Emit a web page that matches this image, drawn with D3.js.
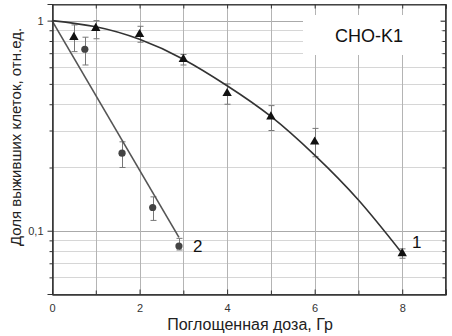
<!DOCTYPE html>
<html>
<head>
<meta charset="utf-8">
<script src="https://cdn.jsdelivr.net/npm/d3@7"></script>
<style>
  body { margin: 0; background: #fff; }
  svg { display: block; font-family: "Liberation Sans", Arial, sans-serif; }
</style>
</head>
<body>
<div id="chart"></div>
<script>
  // series 1 (triangles) - measured points with error bars
  const dose1 = [0.5, 1, 2, 3, 4, 5, 6, 8];
  const surv1 = [0.834, 0.92, 0.861, 0.655, 0.451, 0.349, 0.265, 0.078];
  const lo1 = [0.712, 0.82, 0.789, 0.615, 0.40, 0.30, 0.225, 0.074];
  const hi1 = [0.954, 1.0, 0.94, 0.69, 0.50, 0.394, 0.307, 0.082];

  // series 2 (circles)
  const dose2 = [0.75, 1.6, 2.3, 2.9];
  const surv2 = [0.731, 0.234, 0.129, 0.0846];
  const lo2 = [0.615, 0.20, 0.112, 0.081];
  const hi2 = [0.834, 0.265, 0.145, 0.092];

  // fitted curves
  const fitDose1 = [0, 1, 2, 3, 4, 5, 6, 7, 8];
  const fitSurv1 = [1, 0.935, 0.815, 0.655, 0.49, 0.350, 0.229, 0.140, 0.078];
  const fitDose2 = [0, 2.9];
  const fitSurv2 = [1, 0.093];

  const xTicks = [0, 2, 4, 6, 8];
  const xMinor = [1, 3, 5, 7, 9];
  const yMajor = [0.1, 1];
  const yMinor = [0.06, 0.07, 0.08, 0.09, 0.2, 0.3, 0.4, 0.5, 0.6, 0.7, 0.8, 0.9];

  const width = 452;
  const height = 336;
  const mLeft = 52, mRight = 446, mTop = 4, mBottom = 294;

  const svg = d3
    .select("#chart")
    .append("svg")
    .attr("width", width)
    .attr("height", height);

  const x = d3.scaleLinear().domain([0, 9]).range([mLeft, mRight]);
  const y = d3.scaleLog().domain([0.05, 1.2]).range([mBottom, mTop]);

  // grid
  const grid = svg.append("g");
  grid
    .selectAll("line.h")
    .data(yMinor)
    .join("line")
    .attr("x1", mLeft)
    .attr("x2", mRight)
    .attr("y1", (d) => Math.round(y(d)) + 0.5)
    .attr("y2", (d) => Math.round(y(d)) + 0.5)
    .attr("stroke", "#d6d6d6");
  grid
    .selectAll("line.hm")
    .data(yMajor)
    .join("line")
    .attr("x1", mLeft)
    .attr("x2", mRight)
    .attr("y1", (d) => Math.round(y(d)) + 0.5)
    .attr("y2", (d) => Math.round(y(d)) + 0.5)
    .attr("stroke", "#aaa");
  grid
    .selectAll("line.v")
    .data(d3.range(1, 9))
    .join("line")
    .attr("x1", (d) => Math.round(x(d)) + 0.5)
    .attr("x2", (d) => Math.round(x(d)) + 0.5)
    .attr("y1", mTop)
    .attr("y2", mBottom)
    .attr("stroke", "#b4b4b4");

  // white box behind the cell line label
  svg
    .append("rect")
    .attr("x", 303)
    .attr("y", 15)
    .attr("width", 138)
    .attr("height", 40)
    .attr("fill", "#fff");

  svg
    .append("text")
    .attr("x", 369)
    .attr("y", 42)
    .attr("text-anchor", "middle")
    .attr("font-size", 18)
    .attr("fill", "#111")
    .text("CHO-K1");

  // error bars
  const errs = [
    ...dose1.map((d, i) => ({ x: d, lo: lo1[i], hi: hi1[i] })),
    ...dose2.map((d, i) => ({ x: d, lo: lo2[i], hi: hi2[i] })),
  ];
  const eb = svg.append("g").attr("stroke", "#777").attr("stroke-width", 1);
  errs.forEach((e) => {
    const cx = Math.round(x(e.x)) + 0.5;
    eb.append("line").attr("x1", cx).attr("x2", cx).attr("y1", y(e.lo)).attr("y2", y(e.hi));
    eb.append("line").attr("x1", cx - 3).attr("x2", cx + 3).attr("y1", y(e.lo)).attr("y2", y(e.lo));
    eb.append("line").attr("x1", cx - 3).attr("x2", cx + 3).attr("y1", y(e.hi)).attr("y2", y(e.hi));
  });

  // fitted lines
  const line = d3
    .line()
    .x((d) => x(d[0]))
    .y((d) => y(d[1]))
    .curve(d3.curveNatural);

  svg
    .append("path")
    .attr("d", line(fitDose1.map((d, i) => [d, fitSurv1[i]])))
    .attr("fill", "none")
    .attr("stroke", "#333")
    .attr("stroke-width", 1.6);

  svg
    .append("path")
    .attr("d", line(fitDose2.map((d, i) => [d, fitSurv2[i]])))
    .attr("fill", "none")
    .attr("stroke", "#555")
    .attr("stroke-width", 1.6);

  // markers
  const tri = d3.symbol().type(d3.symbolTriangle).size(38);
  svg
    .selectAll("path.tri")
    .data(dose1.map((d, i) => [d, surv1[i]]))
    .join("path")
    .attr("class", "tri")
    .attr("d", tri)
    .attr("transform", (d) => `translate(${x(d[0])},${y(d[1])})`)
    .attr("fill", "#111");

  svg
    .selectAll("circle.pt")
    .data(dose2.map((d, i) => [d, surv2[i]]))
    .join("circle")
    .attr("class", "pt")
    .attr("cx", (d) => x(d[0]))
    .attr("cy", (d) => y(d[1]))
    .attr("r", 3.6)
    .attr("fill", "#444");

  // curve labels
  svg.append("text").attr("x", 412).attr("y", 248).attr("font-size", 17).attr("fill", "#111").text("1");
  svg.append("text").attr("x", 193).attr("y", 252).attr("font-size", 17).attr("fill", "#111").text("2");

  // frame
  svg
    .append("rect")
    .attr("x", mLeft + 0.5)
    .attr("y", mTop + 0.5)
    .attr("width", mRight - mLeft - 1)
    .attr("height", mBottom - mTop)
    .attr("fill", "none")
    .attr("stroke", "#555");

  // axes
  svg
    .append("g")
    .attr("transform", `translate(0,${mBottom + 0.5})`)
    .call(d3.axisBottom(x).tickValues(xTicks).tickSize(-5).tickPadding(10).tickFormat(d3.format("d")));
  svg
    .append("g")
    .attr("transform", `translate(0,${mBottom + 0.5})`)
    .call(d3.axisBottom(x).tickValues(xMinor).tickSize(-4).tickFormat(""));
  svg
    .append("g")
    .attr("transform", `translate(0,${mTop + 0.5})`)
    .call(d3.axisTop(x).tickValues(d3.range(0, 10)).tickSize(-4).tickFormat(""));

  svg
    .append("g")
    .attr("transform", `translate(${mLeft + 0.5},0)`)
    .call(
      d3
        .axisLeft(y)
        .tickValues(yMajor)
        .tickSize(5)
        .tickPadding(4)
        .tickFormat((d) => (d === 1 ? "1" : "0,1"))
    );
  svg
    .append("g")
    .attr("transform", `translate(${mLeft + 0.5},0)`)
    .call(d3.axisLeft(y).tickValues(yMinor).tickSize(3).tickFormat(""));
  svg
    .append("g")
    .attr("transform", `translate(${mRight - 0.5},0)`)
    .call(d3.axisRight(y).tickValues(yMajor).tickSize(-5).tickFormat(""));
  svg
    .append("g")
    .attr("transform", `translate(${mRight - 0.5},0)`)
    .call(d3.axisRight(y).tickValues(yMinor).tickSize(-3).tickFormat(""));

  svg.selectAll(".domain").attr("stroke", "#333");
  svg.selectAll(".tick line").attr("stroke", "#333");
  svg
    .selectAll(".tick text")
    .attr("font-size", 11)
    .attr("font-family", "Liberation Sans, Arial, sans-serif")
    .attr("fill", "#333");

  // axis titles
  svg
    .append("text")
    .attr("x", 250)
    .attr("y", 330)
    .attr("text-anchor", "middle")
    .attr("font-size", 16)
    .attr("fill", "#222")
    .text("Поглощенная доза, Гр");

  svg
    .append("text")
    .attr("transform", "translate(21,137) rotate(-90)")
    .attr("text-anchor", "middle")
    .attr("font-size", 15)
    .attr("fill", "#222")
    .text("Доля выживших клеток, отн.ед.");
</script>
</body>
</html>
